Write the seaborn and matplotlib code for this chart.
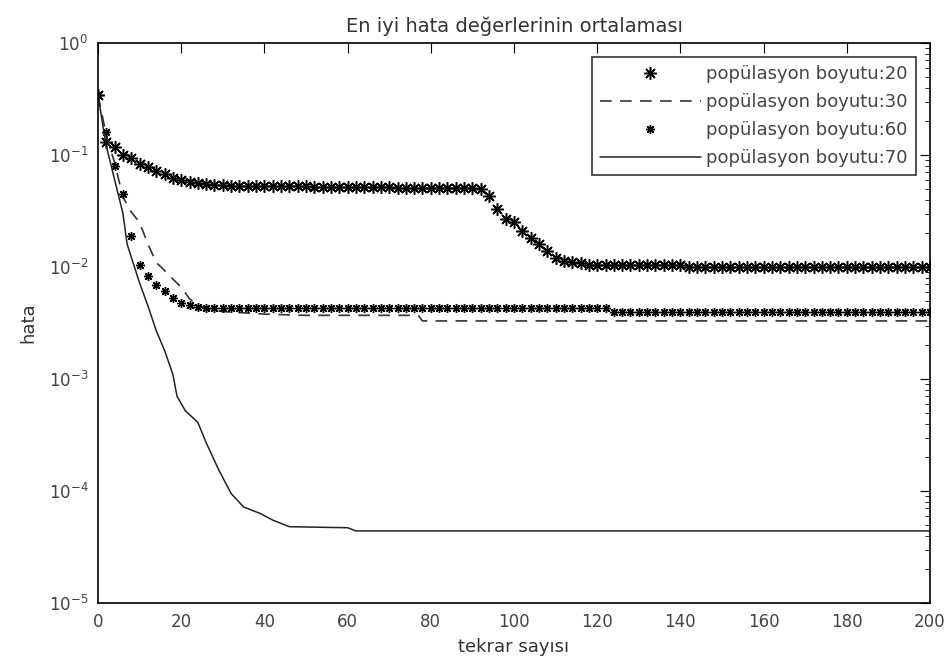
import numpy as np
import pandas as pd
import matplotlib
matplotlib.use("Agg")
import matplotlib.pyplot as plt
import seaborn as sns

# ---------------- data ----------------
iter_even = list(range(0, 201, 2))

pop20_vals = ([0.34, 0.13, 0.117, 0.10, 0.094, 0.083, 0.078, 0.072,
               0.068, 0.062, 0.060, 0.057, 0.056, 0.055, 0.054, 0.054]
              + [0.053] * 10 + [0.052] * 10 + [0.051] * 10
              + [0.050, 0.043, 0.033, 0.027, 0.025, 0.021, 0.018, 0.016,
                 0.014, 0.012, 0.0112, 0.0110, 0.0108]
              + [0.0105] * 12 + [0.0100] * 30)

pop60_vals = ([0.34, 0.16, 0.08, 0.045, 0.019, 0.0105, 0.0083, 0.0069,
               0.0061, 0.0053, 0.0048, 0.0046, 0.0044, 0.0043]
              + [0.0043] * 48 + [0.0040] * 39)

pop30_iter = [0, 2, 4, 6, 8, 10, 12, 14, 16, 18, 20, 22, 24, 26, 30, 40,
              50, 60, 70, 77, 78, 200]
pop30_vals = [0.34, 0.15, 0.085, 0.042, 0.031, 0.025, 0.016, 0.011, 0.0093,
              0.0078, 0.0066, 0.0052, 0.0046, 0.0042, 0.0040, 0.0038,
              0.0037, 0.0037, 0.0037, 0.0037, 0.0033, 0.0033]

pop70_iter = [0, 1, 2, 4, 6, 7, 10, 12, 14, 16, 18, 19, 21, 24, 26, 29, 32,
              35, 39, 42, 46, 60, 62, 200]
pop70_vals = [0.35, 0.2, 0.12, 0.06, 0.03, 0.016, 0.0072, 0.0045, 0.0027,
              0.0018, 0.0011, 0.0007, 0.00052, 0.00041, 0.00027, 0.000155,
              0.000095, 0.000072, 0.000063, 0.000055, 0.000048, 0.000047,
              0.000044, 0.000044]

labels = ["popülasyon boyutu:20", "popülasyon boyutu:30",
          "popülasyon boyutu:60", "popülasyon boyutu:70"]
title = "En iyi hata değerlerinin ortalaması"
xlabel = "tekrar sayısı"
ylabel = "hata"
xticks = list(range(0, 201, 20))

# ---------------- plot ----------------
sns.set_style("white")
plt.rcParams['font.family'] = ['DejaVu Sans']
plt.rcParams['xtick.direction'] = 'in'
plt.rcParams['ytick.direction'] = 'in'

fig = plt.figure(figsize=(9.53, 6.64), dpi=100)
ax = fig.add_axes([98 / 953, 1 - 603 / 664, (930 - 98) / 953, (603 - 43) / 664])

sns.lineplot(x=iter_even, y=pop20_vals, ax=ax, color="black",
             marker=(8, 2, 0), markersize=9, linestyle="none",
             markeredgewidth=1.1, markeredgecolor="black",
             estimator=None, errorbar=None, label=labels[0])
sns.lineplot(x=pop30_iter, y=pop30_vals, ax=ax, color="#333333",
             linestyle=(0, (7, 5)), linewidth=1.2,
             estimator=None, errorbar=None, label=labels[1])
sns.lineplot(x=iter_even, y=pop60_vals, ax=ax, color="black",
             marker=(8, 2, 0), markersize=6.5, linestyle="none",
             markeredgewidth=1.0, markeredgecolor="black",
             estimator=None, errorbar=None, label=labels[2])
sns.lineplot(x=pop70_iter, y=pop70_vals, ax=ax, color="#222222",
             linewidth=1.1, estimator=None, errorbar=None, label=labels[3])

ax.set_yscale("log")
ax.set_ylim(1e-5, 1)
ax.set_xlim(0, 200)
ax.set_xticks(xticks)
ax.set_xticklabels([str(t) for t in xticks])

for s in ax.spines.values():
    s.set_color("black")
    s.set_linewidth(1.2)

ax.tick_params(axis="both", which="both", direction="in", top=True,
               right=True, color="black", labelsize=12, labelcolor="#444444")
ax.tick_params(which="major", length=7, pad=7)
ax.tick_params(which="minor", length=3.5)

ax.set_title(title, fontsize=14, color="#333333", pad=8)
ax.set_xlabel(xlabel, fontsize=13, color="#333333", labelpad=5)
ax.set_ylabel(ylabel, fontsize=13, color="#333333", labelpad=8)

leg = ax.legend(loc="upper right", fontsize=13, frameon=True, fancybox=False,
                handlelength=5.6, handletextpad=0.3, borderpad=0.45,
                labelspacing=0.55, borderaxespad=0,
                bbox_to_anchor=(0.983, 0.975))
leg.get_frame().set_edgecolor("black")
leg.get_frame().set_linewidth(1.2)
for t in leg.get_texts():
    t.set_color("#444444")

fig.savefig("out.png", dpi=100)
